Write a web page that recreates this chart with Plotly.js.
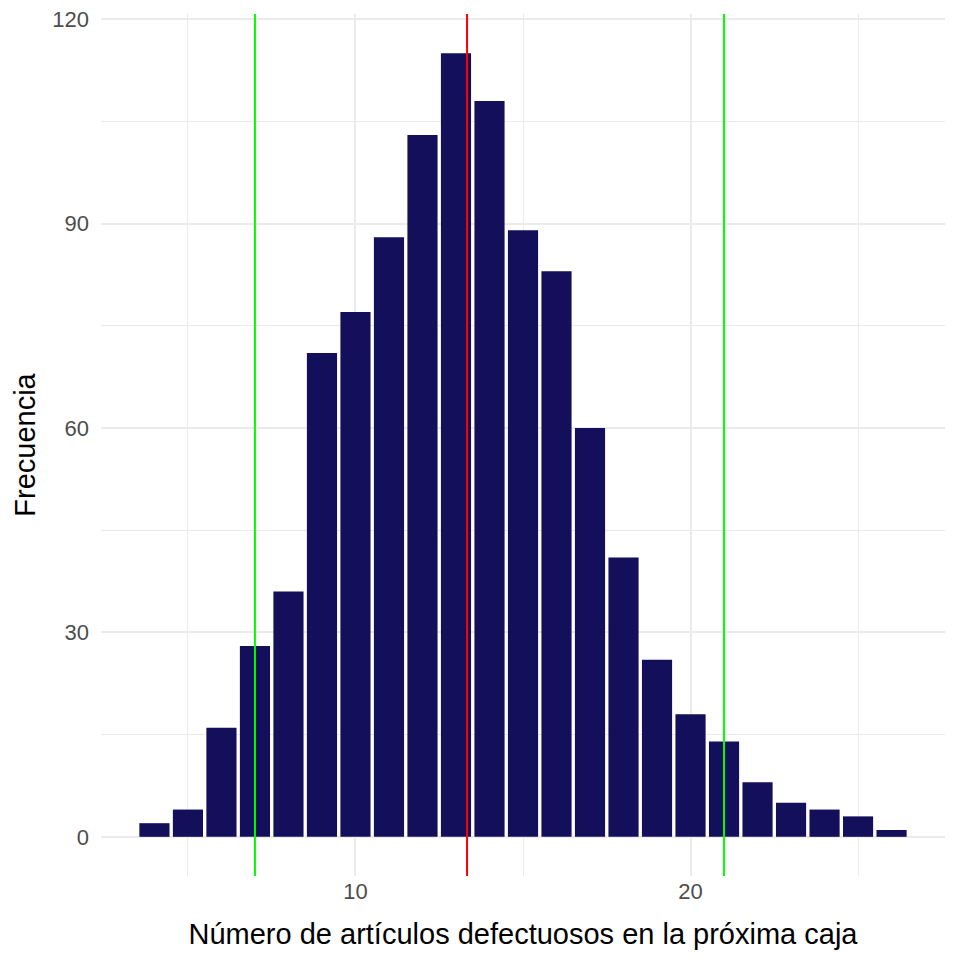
<!DOCTYPE html>
<html>
<head>
<meta charset="utf-8">
<script src="https://cdn.plot.ly/plotly-3.0.1.min.js"></script>
<style>html,body{margin:0;padding:0;background:#fff;}#chart{width:960px;height:960px;}</style>
</head>
<body>
<div id="chart"></div>
<script>
const defectos = [4,5,6,7,8,9,10,11,12,13,14,15,16,17,18,19,20,21,22,23,24,25,26];
const frecuencia = [2,4,16,28,36,71,77,88,103,115,108,89,83,60,41,26,18,14,8,5,4,3,1];
const limites = [7, 21];
const media = [13.33];
const yTicks = [0,30,60,90,120];
const xTicks = [10,20];

const font = "Liberation Sans, Arial, Helvetica, sans-serif";

const shapes = [];
limites.forEach(v => shapes.push({type:'line', xref:'x', yref:'paper', x0:v, x1:v, y0:0, y1:1, line:{color:'#00ff00', width:2}}));
media.forEach(v => shapes.push({type:'line', xref:'x', yref:'paper', x0:v, x1:v, y0:0, y1:1, line:{color:'#ff0000', width:2}}));

const data = [{
  type:'bar', x:defectos, y:frecuencia, width:0.9,
  marker:{color:'#130f5b', line:{width:0}}, hoverinfo:'x+y'
}];

const layout = {
  width:960, height:960,
  margin:{l:101, r:15, t:14, b:84},
  paper_bgcolor:'#fff', plot_bgcolor:'#fff',
  showlegend:false,
  font:{family:font},
  xaxis:{
    range:[2.405, 27.595], tickmode:'array', tickvals:xTicks, ticktext:xTicks.map(String),
    showgrid:true, gridcolor:'#ebebeb', gridwidth:2, zeroline:false, showline:false,
    ticks:'', ticklen:0, tickfont:{size:22, color:'#4d4d4d', family:font},
    minor:{tickmode:'array', tickvals:[5,15,25], showgrid:true, gridcolor:'#ebebeb', gridwidth:1, ticks:''},
    title:{text:'Número de artículos defectuosos en la próxima caja', font:{size:29, color:'#000', family:font}, standoff:20}
  },
  yaxis:{
    range:[-5.75, 120.75], tickmode:'array', tickvals:yTicks, ticktext:yTicks.map(String),
    showgrid:true, gridcolor:'#ebebeb', gridwidth:2, zeroline:false, showline:false,
    ticks:'', ticklen:0, ticklabelstandoff:11, tickfont:{size:22, color:'#4d4d4d', family:font},
    minor:{tickmode:'array', tickvals:[15,45,75,105], showgrid:true, gridcolor:'#ebebeb', gridwidth:1, ticks:''},
    title:{text:'Frecuencia', font:{size:29, color:'#000', family:font}, standoff:8}
  },
  shapes:shapes
};

Plotly.newPlot('chart', data, layout, {displayModeBar:false, staticPlot:true});
</script>
</body>
</html>
